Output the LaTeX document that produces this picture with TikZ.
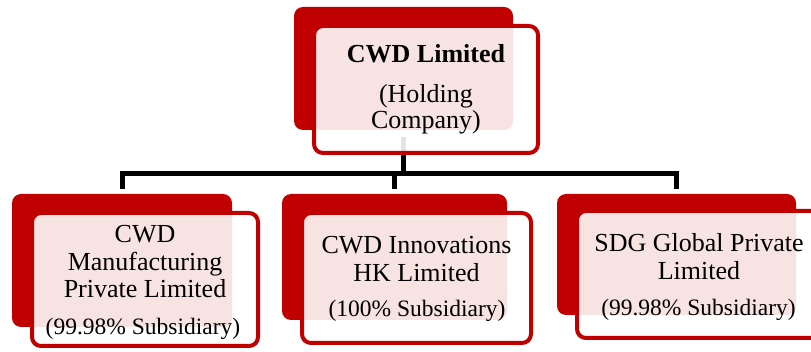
\documentclass[tikz,border=0pt]{standalone}
\usepackage{fontspec}
\setmainfont{Liberation Serif}
\definecolor{cwdred}{RGB}{192,0,0}
\tikzset{
  backbox/.style={draw=none, fill=cwdred, rounded corners=9pt, inner sep=0pt},
  frontbox/.style={draw=cwdred, line width=4pt, fill=white, fill opacity=0.89, text opacity=1, rounded corners=9pt, inner sep=0pt},
  conn/.style={draw=black, line width=5pt, line join=miter},
  nm/.style={anchor=base, inner sep=0pt, font=\fontsize{26}{28}\selectfont},
  sub/.style={anchor=base, inner sep=0pt, font=\fontsize{23.5}{26}\selectfont},
}
\begin{document}
\begin{tikzpicture}[x=1pt, y=-1pt]
\useasboundingbox (0,0) rectangle (811,352);
% back boxes
\node[backbox, minimum width=219pt, minimum height=123pt] (tb) at (403.5,68.5) {};
\node[backbox, minimum width=220pt, minimum height=133pt] (lb) at (122,260.5) {};
\node[backbox, minimum width=225pt, minimum height=126pt] (mb) at (394.5,257) {};
\node[backbox, minimum width=239pt, minimum height=121pt] (rb) at (676.5,254.5) {};
% connectors
\coordinate (bus) at (0,173.5);
\draw[conn, shorten <=7pt] (tb.south) -- (tb.south |- bus);
\draw[conn, shorten <=5pt, shorten >=5pt] (lb.north) -- (lb.north |- bus) -- (rb.north |- bus) -- (rb.north);
\draw[conn, shorten >=5pt] (mb.north |- bus) -- (mb.north);
% front boxes
\node[frontbox, minimum width=224pt, minimum height=127pt] (tf) at (426,89.5) {};
\node[frontbox, minimum width=226pt, minimum height=133pt] (lf) at (145,279.5) {};
\node[frontbox, minimum width=229pt, minimum height=130pt] (mf) at (416.5,278) {};
\node[frontbox, minimum width=244pt, minimum height=127pt] (rf) at (699,274.5) {};
% texts
\node[nm, font=\fontsize{26}{28}\selectfont\bfseries] (t1) at (426,63) {CWD Limited};
\node[nm] (t2) at (426,103) {(Holding};
\node[nm] (t3) at (426,129) {Company)};
\node[nm] (l1) at (145,243) {CWD};
\node[nm] (l2) at (145,271) {Manufacturing};
\node[nm] (l3) at (145,298) {Private Limited};
\node[sub] (l4) at (143,335) {(99.98\% Subsidiary)};
\node[nm] (m1) at (416.5,254) {CWD Innovations};
\node[nm] (m2) at (416.5,282) {HK Limited};
\node[sub] (m3) at (417,317) {(100\% Subsidiary)};
\node[nm] (r1) at (699,252) {SDG Global Private};
\node[nm] (r2) at (699,280) {Limited};
\node[sub] (r3) at (698.5,316) {(99.98\% Subsidiary)};
\end{tikzpicture}
\end{document}
